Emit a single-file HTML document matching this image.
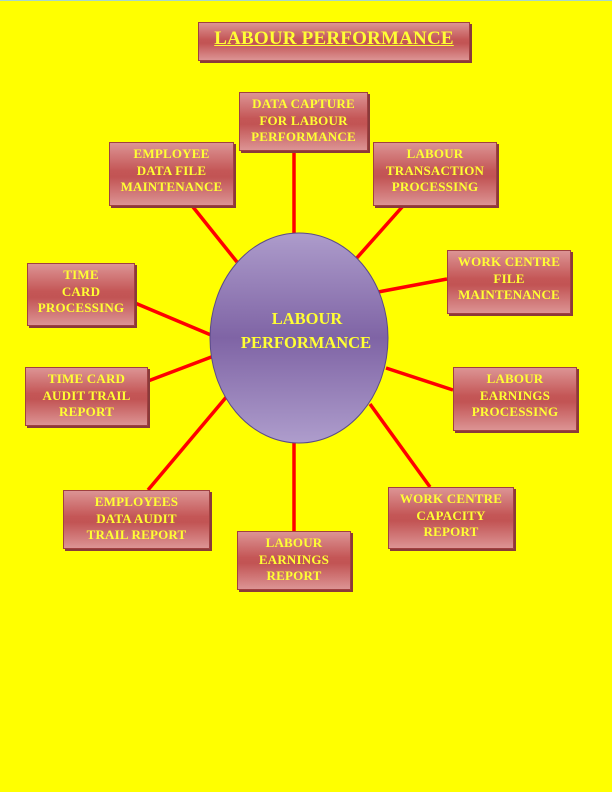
<!DOCTYPE html>
<html><head><meta charset="utf-8"><style>
body{margin:0;width:612px;height:792px;background:#ffff00;position:relative;overflow:hidden;font-family:"Liberation Serif",serif;}
.top{position:absolute;left:0;top:0;width:612px;height:1px;background:#a8d8c8;}
.b{position:absolute;box-sizing:border-box;border:1px solid #a04040;background:linear-gradient(#dc9494 0%,#c45656 45%,#c25454 55%,#dc9494 100%);box-shadow:2px 2px 0 #8a3a3a;color:#ffff33;font-weight:bold;font-size:13px;line-height:16.5px;text-align:center;padding-top:3px;letter-spacing:0.2px;}
svg{position:absolute;left:0;top:0;}
.t{font-size:19px;line-height:22px;text-decoration:underline;padding-top:5px;}
</style></head><body>
<div class="top"></div>
<svg width="612" height="792">
<defs><linearGradient id="g" x1="0" y1="0" x2="0" y2="1">
<stop offset="0" stop-color="#ad9ccb"/><stop offset="0.5" stop-color="#7f64a5"/><stop offset="1" stop-color="#ae9dcc"/></linearGradient></defs>
<g stroke="#ff0000" stroke-width="3.5">
<line x1="294" y1="151" x2="294" y2="235"/>
<line x1="193" y1="207" x2="237" y2="262"/>
<line x1="403" y1="206" x2="355" y2="260"/>
<line x1="447" y1="279" x2="378" y2="292"/>
<line x1="135" y1="303" x2="211" y2="335"/>
<line x1="148" y1="381" x2="214" y2="356"/>
<line x1="453" y1="390" x2="386" y2="368"/>
<line x1="148" y1="490" x2="228" y2="395"/>
<line x1="294" y1="531" x2="294" y2="441"/>
<line x1="430" y1="487" x2="370" y2="404"/>
</g>
<ellipse cx="299" cy="338" rx="89" ry="105" fill="url(#g)" stroke="#5a4a8a" stroke-width="1"/>
<text x="307" y="324" fill="#ffff33" font-family="Liberation Serif" font-weight="bold" font-size="16.5" text-anchor="middle">LABOUR</text>
<text x="306" y="348" fill="#ffff33" font-family="Liberation Serif" font-weight="bold" font-size="16.5" text-anchor="middle">PERFORMANCE</text>
</svg>
<div class="b t" style="left:198px;top:22px;width:272px;height:39px;">LABOUR PERFORMANCE</div>
<div class="b" style="left:239px;top:92px;width:129px;height:59px;">DATA CAPTURE<br>FOR LABOUR<br>PERFORMANCE</div>
<div class="b" style="left:109px;top:142px;width:125px;height:64px;">EMPLOYEE<br>DATA FILE<br>MAINTENANCE</div>
<div class="b" style="left:373px;top:142px;width:124px;height:64px;">LABOUR<br>TRANSACTION<br>PROCESSING</div>
<div class="b" style="left:447px;top:250px;width:124px;height:64px;">WORK CENTRE<br>FILE<br>MAINTENANCE</div>
<div class="b" style="left:27px;top:263px;width:108px;height:63px;">TIME<br>CARD<br>PROCESSING</div>
<div class="b" style="left:25px;top:367px;width:123px;height:59px;">TIME CARD<br>AUDIT TRAIL<br>REPORT</div>
<div class="b" style="left:453px;top:367px;width:124px;height:64px;">LABOUR<br>EARNINGS<br>PROCESSING</div>
<div class="b" style="left:63px;top:490px;width:147px;height:59px;">EMPLOYEES<br>DATA AUDIT<br>TRAIL REPORT</div>
<div class="b" style="left:237px;top:531px;width:114px;height:59px;">LABOUR<br>EARNINGS<br>REPORT</div>
<div class="b" style="left:388px;top:487px;width:126px;height:62px;">WORK CENTRE<br>CAPACITY<br>REPORT</div>
</body></html>
